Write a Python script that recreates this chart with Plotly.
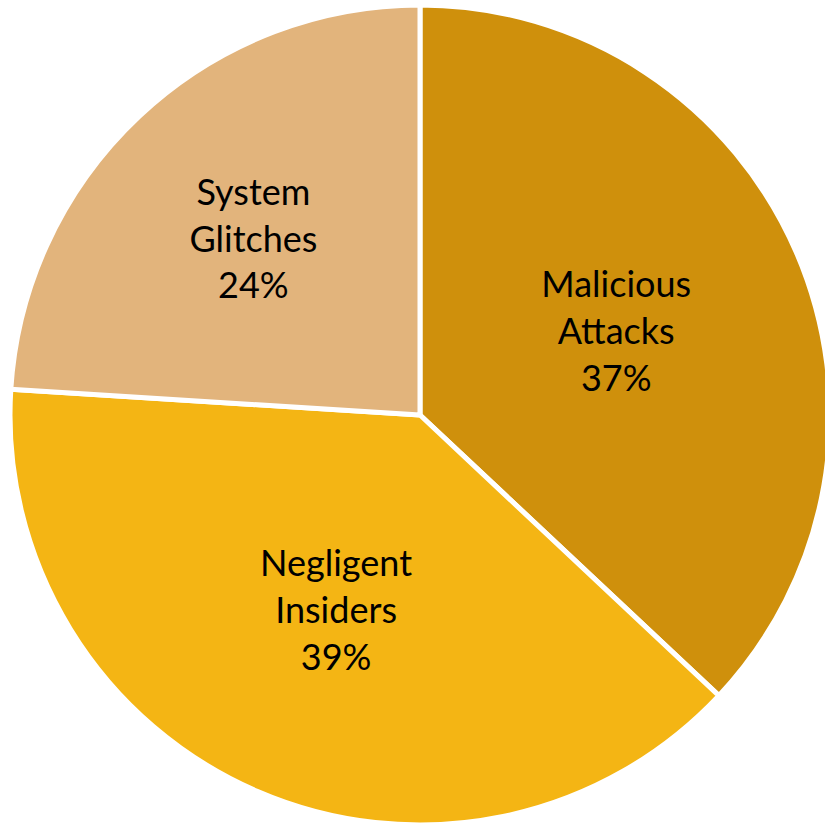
import plotly.graph_objects as go

labels = ["Malicious<br>Attacks", "Negligent<br>Insiders", "System<br>Glitches"]
values = [37, 39, 24]
colors = ["#CF900C", "#F4B514", "#E2B47C"]

fig = go.Figure(go.Pie(
    labels=labels,
    values=values,
    sort=False,
    direction="clockwise",
    rotation=0,
    marker=dict(colors=colors, line=dict(color="white", width=5)),
    textinfo="label+percent",
    textposition="inside",
    insidetextorientation="horizontal",
    textfont=dict(family="Lato", size=36, color="black"),
    showlegend=False,
    hoverinfo="label+percent",
))
fig.update_layout(
    width=835, height=827,
    margin=dict(l=10, r=5, t=4, b=1),
    paper_bgcolor="white",
    plot_bgcolor="white",
)
fig.write_html(
    "out.html",
    config={"displayModeBar": False},
    post_script="document.body.style.margin='0';document.body.style.overflow='hidden';",
)
